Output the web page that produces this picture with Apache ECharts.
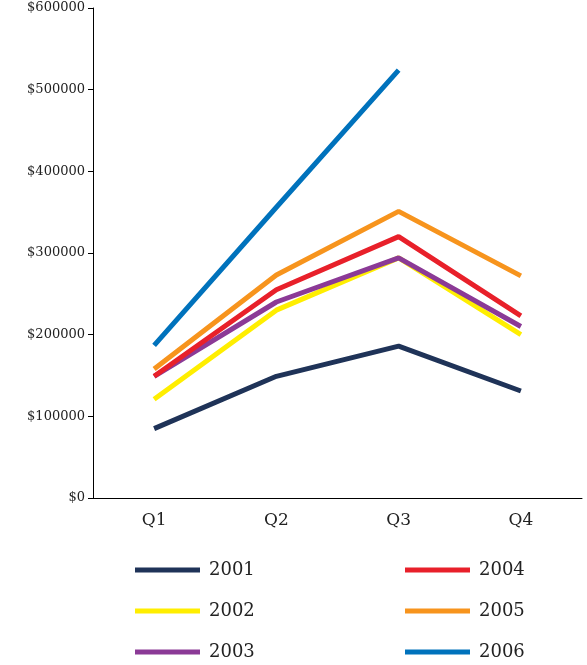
<!DOCTYPE html>
<html>
<head>
<meta charset="utf-8">
<script src="https://cdn.jsdelivr.net/npm/echarts@6/dist/echarts.min.js"></script>
<style>html,body{margin:0;padding:0;background:#fff}#main{width:587px;height:665px}</style>
</head>
<body>
<div id="main"></div>
<script>
var quarters = ['Q1', 'Q2', 'Q3', 'Q4'];
var s2001 = [85000, 149000, 186000, 131000];
var s2002 = [121000, 230000, 294000, 200000];
var s2003 = [149000, 240000, 294000, 210000];
var s2004 = [149000, 255000, 320000, 223000];
var s2005 = [158000, 273000, 351000, 272000];
var s2006 = [187000, 356000, 524000, null];
var years = ['2001', '2002', '2003', '2004', '2005', '2006'];
var colors = ['#1f3358', '#ffee00', '#8b3a96', '#e8202a', '#f7941d', '#0072bc'];
var values = [s2001, s2002, s2003, s2004, s2005, s2006];

var font = 'DejaVu Serif';
var chart = echarts.init(document.getElementById('main'));
var legendBase = {
    orient: 'vertical', top: 556, height: 110, itemWidth: 65, itemHeight: 5, itemGap: 23,
    icon: 'rect', textStyle: {fontFamily: font, fontSize: 18, color: '#222', padding: [0, 0, 0, 4]}
};
chart.setOption({
    color: colors,
    animation: false,
    grid: {left: 93, right: 5, top: 8, bottom: 167},
    legend: [
        Object.assign({}, legendBase, {left: 130, data: years.slice(0, 3)}),
        Object.assign({}, legendBase, {left: 400, data: years.slice(3)})
    ],
    xAxis: {
        type: 'category', data: quarters, boundaryGap: true,
        axisLine: {lineStyle: {color: '#000', width: 1}},
        axisTick: {length: 10, lineStyle: {color: '#000'}},
        axisLabel: {fontFamily: font, fontSize: 17, color: '#222', margin: 14}
    },
    yAxis: {
        type: 'value', min: 0, max: 600000, interval: 100000,
        splitLine: {show: false},
        axisLine: {show: true, lineStyle: {color: '#000', width: 1}},
        axisTick: {show: true, length: 5, lineStyle: {color: '#000'}},
        axisLabel: {fontFamily: font, fontSize: 13, color: '#222', formatter: function (v) { return '$' + v; }}
    },
    series: years.map(function (y, i) {
        return {name: y, type: 'line', data: values[i], showSymbol: false, lineStyle: {width: 5}};
    })
});
</script>
</body>
</html>
